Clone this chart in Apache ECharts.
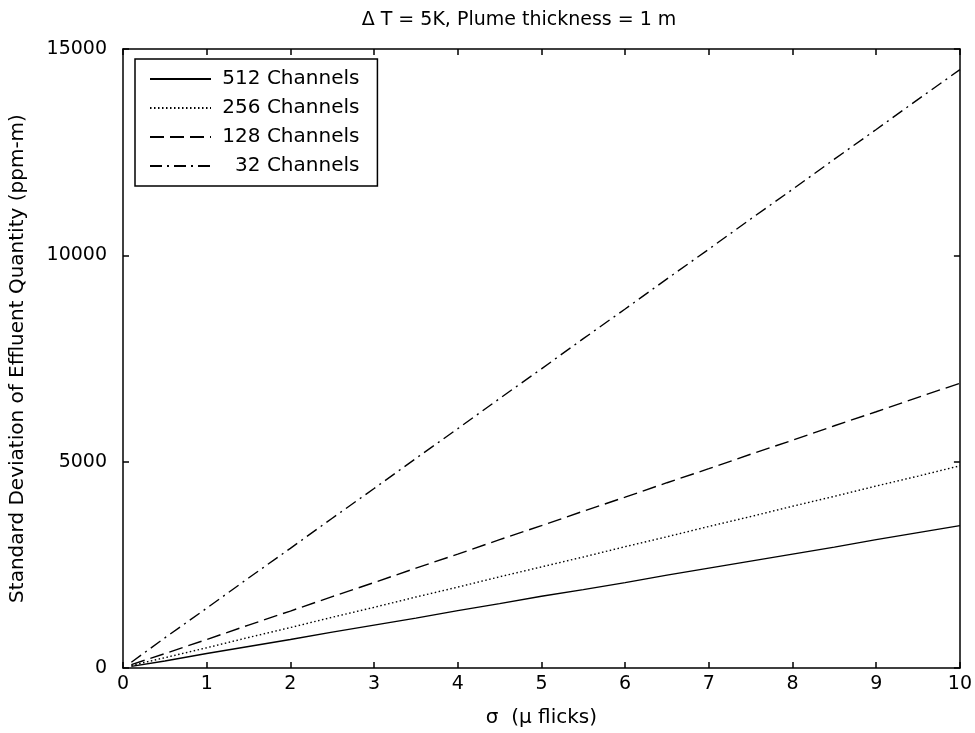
<!DOCTYPE html>
<html>
<head>
<meta charset="utf-8">
<script src="https://cdn.jsdelivr.net/npm/echarts@6/dist/echarts.min.js"></script>
<style>
    html, body { margin: 0; padding: 0; background: #fff; }
    #chart { width: 975px; height: 733px; }
</style>
</head>
<body>
<div id="chart"></div>
<script>
// sigma values (micro flicks)
const sigma = [0.1, 0.5, 1, 1.5, 2, 2.5, 3, 3.5, 4, 4.5, 5, 5.5, 6, 6.5, 7, 7.5, 8, 8.5, 9, 9.5, 10];

// standard deviation of effluent quantity (ppm-m)
const ch512 = [40, 170, 350, 520, 690, 870, 1040, 1210, 1390, 1560, 1740, 1900, 2070, 2250, 2420, 2590, 2760, 2930, 3110, 3280, 3450];
const ch256 = [60, 250, 490, 740, 980, 1230, 1470, 1720, 1960, 2210, 2450, 2690, 2940, 3180, 3430, 3670, 3920, 4160, 4410, 4650, 4900];
const ch128 = [80, 350, 690, 1040, 1380, 1730, 2070, 2420, 2760, 3110, 3450, 3800, 4140, 4490, 4830, 5180, 5520, 5870, 6210, 6560, 6900];
const ch32 = [140, 730, 1450, 2180, 2900, 3630, 4350, 5080, 5800, 6530, 7250, 7980, 8700, 9430, 10150, 10880, 11600, 12330, 13050, 13780, 14500];

const seriesNames = ['512 Channels', '256 Channels', '128 Channels', '32 Channels'];

const toPairs = (ys) => sigma.map((x, i) => [x, ys[i]]);

const font = 'DejaVu Sans, Arial, sans-serif';

const lineSeries = (name, ys, dash) => ({
    name: name,
    type: 'line',
    data: toPairs(ys),
    symbol: 'none',
    showSymbol: false,
    lineStyle: { color: '#000', width: 1.4, type: dash },
    itemStyle: { color: '#000' },
    silent: true
});

const boxAxis = {
    axisLine: { show: true, onZero: false, lineStyle: { color: '#000', width: 1.5 } },
    axisTick: { show: true, inside: true, length: 6, lineStyle: { color: '#000', width: 1.5 } },
    splitLine: { show: false }
};

let option = {
    animation: false,
    backgroundColor: '#fff',
    title: {
        text: 'Δ T = 5K, Plume thickness = 1 m',
        left: 514,
        top: 6,
        textAlign: 'center',
        textStyle: { fontFamily: font, fontSize: 19, fontWeight: 'normal', color: '#000' }
    },
    grid: { left: 122, right: 10, top: 49, bottom: 64 },
    legend: {
        left: 135,
        top: 59,
        orient: 'vertical',
        backgroundColor: '#fff',
        borderColor: '#000',
        borderWidth: 1.5,
        borderRadius: 0,
        padding: [10, 18, 10, 14],
        itemWidth: 61,
        itemHeight: 14,
        itemGap: 9,
        itemStyle: { opacity: 0 },
        textStyle: { fontFamily: font, fontSize: 20, color: '#000', lineHeight: 20 },
        formatter: (name) => name.length < 12 ? '   ' + name : ' ' + name,
        data: seriesNames
    },
    xAxis: [
        Object.assign({}, boxAxis, {
            type: 'value',
            min: 0,
            max: 10,
            interval: 1,
            name: 'σ  (μ flicks)',
            nameLocation: 'middle',
            nameGap: 40,
            nameTextStyle: { fontFamily: font, fontSize: 20, color: '#000' },
            axisLabel: { fontFamily: font, fontSize: 19, color: '#000', margin: 7 }
        }),
        Object.assign({}, boxAxis, {
            type: 'value',
            position: 'top',
            min: 0,
            max: 10,
            interval: 1,
            axisLabel: { show: false }
        })
    ],
    yAxis: [
        Object.assign({}, boxAxis, {
            type: 'value',
            min: 0,
            max: 15000,
            interval: 5000,
            name: 'Standard Deviation of Effluent Quantity (ppm-m)',
            nameLocation: 'middle',
            nameGap: 95,
            nameTextStyle: { fontFamily: font, fontSize: 20, color: '#000' },
            axisLabel: { fontFamily: font, fontSize: 19, color: '#000', margin: 16, formatter: (v) => String(v) }
        }),
        Object.assign({}, boxAxis, {
            type: 'value',
            position: 'right',
            min: 0,
            max: 15000,
            interval: 5000,
            axisLabel: { show: false }
        })
    ],
    series: [
        lineSeries(seriesNames[0], ch512, 'solid'),
        lineSeries(seriesNames[1], ch256, [1.5, 2.5]),
        lineSeries(seriesNames[2], ch128, [14, 6]),
        lineSeries(seriesNames[3], ch32, [12, 5, 2, 5])
    ]
};

let myChart = echarts.init(document.getElementById('chart'));
option && myChart.setOption(option);
</script>
</body>
</html>
